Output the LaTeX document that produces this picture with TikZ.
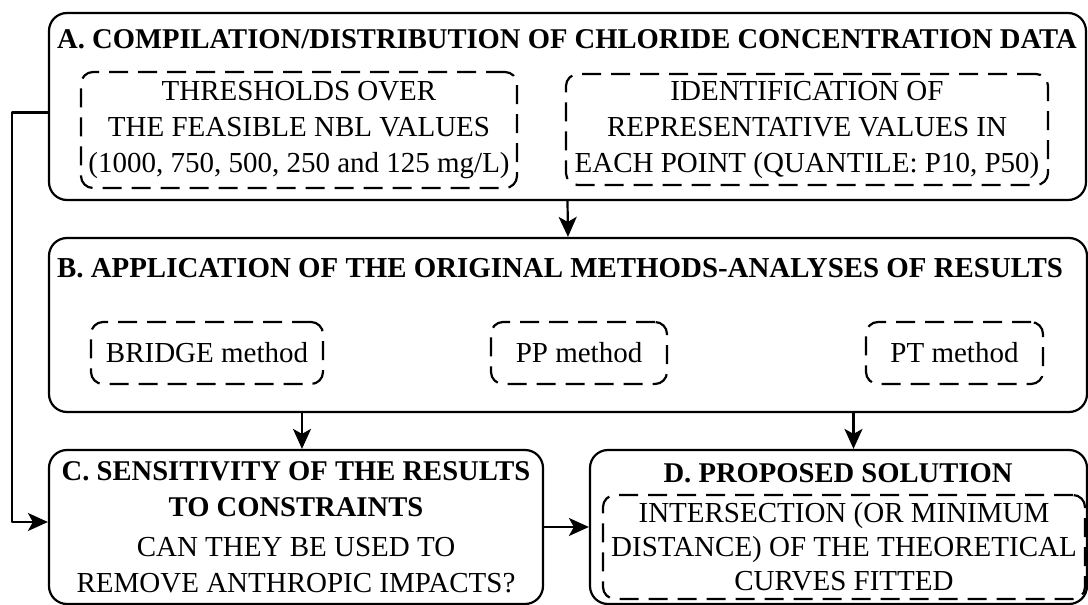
\documentclass[tikz,border=0pt]{standalone}
\usepackage{fontspec}
\setmainfont{Liberation Serif}
\usetikzlibrary{arrows.meta}

\newcommand\bodyfont{\fontsize{14.5}{18}\selectfont}
\newcommand\headfont{\fontsize{14.3}{17.5}\selectfont\bfseries}

\tikzset{
  stagebox/.style={draw,line width=1.1pt,rounded corners=9pt,inner sep=0pt},
  subbox/.style={draw,line width=1.1pt,rounded corners=6pt,dash pattern=on 9.5pt off 5pt,
    inner sep=0pt,align=center,font=\bodyfont},
  heading/.style={inner sep=0pt,align=center,font=\headfont},
  flow/.style={-{Stealth[length=10pt,width=9pt,inset=2.5pt]},line width=1.1pt},
}

\begin{document}
\begin{tikzpicture}[x=0.5pt,y=-0.5pt,line join=round]
  % canvas 1088 x 605 px, y runs downwards
  \useasboundingbox[fill=white] (0,0) rectangle (1088,605);

  % ---- A. compilation ----
  \node[stagebox,minimum width=518.5pt,minimum height=93.5pt] (compil) at (567.5,106.5) {};
  \node[heading] (compiltitle) at (567,39)
    {A. COMPILATION/DISTRIBUTION OF CHLORIDE CONCENTRATION DATA};
  \node[subbox,minimum width=218pt,minimum height=58pt] (thresh) at (299,130)
    {THRESHOLDS OVER\\THE FEASIBLE NBL VALUES\\(1000, 750, 500, 250 and 125 mg/L)};
  \node[subbox,minimum width=241pt,minimum height=55.5pt] (ident) at (807,129.5)
    {IDENTIFICATION OF\\REPRESENTATIVE VALUES IN\\EACH POINT (QUANTILE: P10, P50)};

  % ---- B. original methods ----
  \node[stagebox,minimum width=519pt,minimum height=87pt] (methods) at (568,325) {};
  \node[heading,font=\fontsize{14.45}{17.5}\selectfont\bfseries] (methodstitle) at (560,268)
    {B. APPLICATION OF THE ORIGINAL METHODS-ANALYSES OF RESULTS};
  \node[subbox,minimum width=116pt,minimum height=31pt] (bridge) at (207,353) {BRIDGE method};
  \node[subbox,minimum width=88pt,minimum height=31pt] (pp) at (579,353) {PP method};
  \node[subbox,minimum width=88.5pt,minimum height=31pt] (pt) at (954.5,353) {PT method};

  % ---- C. sensitivity ----
  \node[stagebox,minimum width=247pt,minimum height=77pt,align=center,font=\bodyfont] (sens) at (296,527)
    {\textbf{\fontsize{14.3}{17.5}\selectfont C. SENSITIVITY OF THE RESULTS}\\
     \textbf{\fontsize{14.3}{17.5}\selectfont TO CONSTRAINTS}\\[2pt]
     CAN THEY BE USED TO\\REMOVE ANTHROPIC IMPACTS?};

  % ---- D. proposed solution ----
  \node[stagebox,minimum width=248.5pt,minimum height=77pt] (propo) at (838.5,527) {};
  \node[heading] (propotitle) at (838,473) {D. PROPOSED SOLUTION};
  \node[subbox,minimum width=241pt,minimum height=52pt,font=\fontsize{14.5}{17}\selectfont] (inters) at (844,547)
    {INTERSECTION (OR MINIMUM\\DISTANCE) OF THE THEORETICAL\\CURVES FITTED};

  % ---- connectors ----
  \draw[flow] (compil.south) -- (methods.north);
  \draw[flow] ([xshift=3pt]methods.south -| sens.north) -- ([xshift=3pt]sens.north);
  \draw[flow] ([xshift=7.5pt]methods.south -| propo.north) -- ([xshift=7.5pt]propo.north);
  \draw[flow] (sens.east) -- (propo.west);
  % feedback from A straight to C
  \draw[flow] ([yshift=-3pt]compil.west) -- ++(-36,0) |- ([yshift=2.5pt]sens.west);
\end{tikzpicture}
\end{document}
